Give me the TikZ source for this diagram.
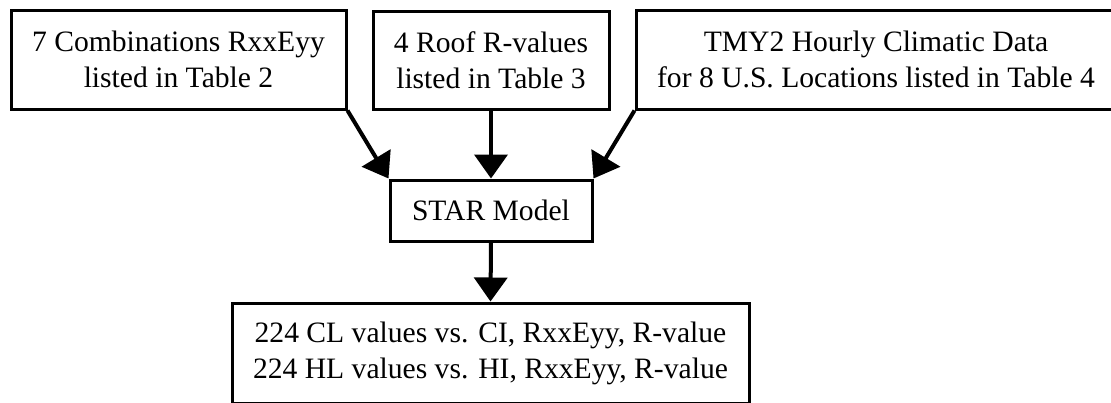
\documentclass[tikz,border=0pt]{standalone}
\usepackage{fontspec}
\setmainfont{Liberation Serif}
\usetikzlibrary{arrows.meta}
\begin{document}
\begin{tikzpicture}[x=1pt,y=-1pt,
  box/.style={draw,line width=3pt,rectangle,inner sep=0pt,align=center,
    font=\fontsize{29.6}{36}\selectfont},
  flow/.style={line width=4pt,-{Triangle[length=24pt,width=33pt]}}]
\useasboundingbox (0,0) rectangle (1111,402);
\node[box,minimum width=335pt,minimum height=99pt] (comb) at (178.5,59.5)
  {7 Combinations RxxEyy\\listed in Table 2};
\node[box,minimum width=236pt,minimum height=98pt] (roof) at (491,60)
  {4 Roof R-values\\listed in Table 3};
\node[box,minimum width=480pt,minimum height=99pt] (tmy) at (876,59.5)
  {TMY2 Hourly Climatic Data\\for 8 U.S. Locations listed in Table 4};
\node[box,minimum width=202pt,minimum height=61pt] (star) at (491,210.5)
  {STAR Model};
\node[box,minimum width=517pt,minimum height=100pt] (out) at (490.5,353)
  {224 CL values vs. CI, RxxEyy, R-value\\224 HL values vs. HI, RxxEyy, R-value};
\draw[flow] (comb.south east) -- (star.north west);
\draw[flow] (roof.south) -- (star.north);
\draw[flow] (tmy.south west) -- (star.north east);
\draw[flow] (star.south) -- (out.north);
\end{tikzpicture}
\end{document}
